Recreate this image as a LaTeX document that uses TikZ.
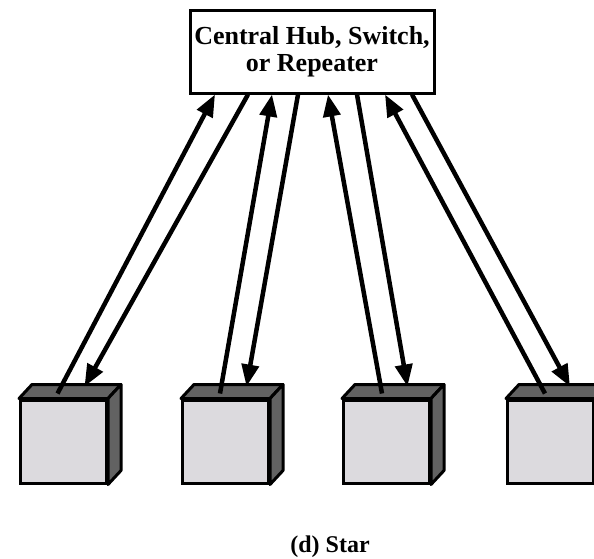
\documentclass[tikz,border=0pt]{standalone}
\usepackage{fontspec}
\setmainfont{Liberation Serif}
\usetikzlibrary{arrows.meta}
\definecolor{facelight}{HTML}{DCDADE}
\definecolor{facedark}{HTML}{626262}
\tikzset{
  hubbox/.style={draw=black, line width=3pt, fill=white, minimum width=244pt, minimum height=83pt, inner sep=0pt, align=center, font=\fontsize{26pt}{27.5pt}\selectfont\bfseries},
  boxfront/.style={draw=black, line width=3pt, fill=facelight, minimum width=86pt, minimum height=83pt, inner sep=0pt},
  boxdepth/.style={draw=black, line width=3pt, fill=facedark, line join=round},
  linkarrow/.style={line width=4.5pt, -{Triangle[length=22pt,width=17pt]}},
  captiontext/.style={font=\fontsize{24pt}{24pt}\selectfont\bfseries}
}
\begin{document}
\begin{tikzpicture}[x=1pt,y=-1pt]
\useasboundingbox (0,0) rectangle (594,558);
\node[hubbox] (hub) at (312,51.5) {Central Hub, Switch,\\or Repeater};
\foreach \i/\cx in {1/63.5, 2/225.5, 3/386.5, 4/550.5} {
  \node[boxfront] (b\i) at (\cx,441.5) {};
  \draw[boxdepth] (b\i.north west) -- ++(13,-14) -- ([shift={(13,-14)}]b\i.north east) -- (b\i.north east) -- cycle;
  \draw[boxdepth] (b\i.north east) -- ([shift={(13,-14)}]b\i.north east) -- ([shift={(13,-14)}]b\i.south east) -- (b\i.south east) -- cycle;
}
\draw[linkarrow] ([xshift=-6pt,yshift=5pt]b1.north) -- ([xshift=-97pt]hub.south);
\draw[linkarrow] ([xshift=-64pt]hub.south) -- ([xshift=21pt,yshift=12pt]b1.north);
\draw[linkarrow] ([xshift=-5.5pt,yshift=5pt]b2.north) -- ([xshift=-40pt]hub.south);
\draw[linkarrow] ([xshift=-14pt]hub.south) -- ([xshift=21pt,yshift=12pt]b2.north);
\draw[linkarrow] ([xshift=-4.5pt,yshift=5pt]b3.north) -- ([xshift=16pt]hub.south);
\draw[linkarrow] ([xshift=45pt]hub.south) -- ([xshift=21pt,yshift=12pt]b3.north);
\draw[linkarrow] ([xshift=-5.5pt,yshift=5pt]b4.north) -- ([xshift=73pt]hub.south);
\draw[linkarrow] ([xshift=100pt]hub.south) -- ([xshift=19.5pt,yshift=12pt]b4.north);
\node[captiontext, anchor=base] (cap) at (330,552) {(d) Star};
\end{tikzpicture}
\end{document}
